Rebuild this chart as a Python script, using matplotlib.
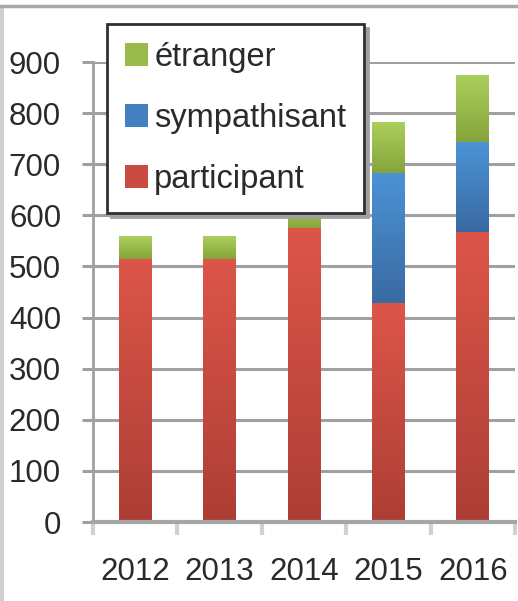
import matplotlib
matplotlib.use("Agg")
import matplotlib.pyplot as plt
import numpy as np
from matplotlib.colors import to_rgb
from matplotlib.lines import Line2D
from matplotlib.patches import Rectangle

years = ["2012", "2013", "2014", "2015", "2016"]
participant = [515, 515, 575, 428, 568]
sympathisant = [0, 0, 0, 255, 176]
etranger = [45, 45, 45, 98, 131]
yticks = [0, 100, 200, 300, 400, 500, 600, 700, 800, 900]

series = [
    ("participant", participant, "#dd5549", "#ad3e35", "#cc4b40"),
    ("sympathisant", sympathisant, "#4b93d6", "#3a6aa2", "#4280c0"),
    ("étranger", etranger, "#abcf5b", "#86a43c", "#9aba4c"),
]

plt.rcParams['font.family'] = ['Liberation Sans', 'DejaVu Sans']

fig = plt.figure(figsize=(5.18, 6.01), dpi=100)
fig.patch.set_facecolor("white")
ax = fig.add_axes([93/518, 1-522/601, (515-93)/518, (522-62)/601])

x = np.arange(len(years))
bottom = np.zeros(len(years))
width = 0.39
for name, vals, ctop, cbot, cmid in series:
    vals = np.array(vals, dtype=float)
    bars = ax.bar(x, vals, width, bottom=bottom, color=cmid, label=name, zorder=2)
    t = np.array(to_rgb(ctop)); b = np.array(to_rgb(cbot))
    grad = np.linspace(0, 1, 64)[:, None, None] * (b - t) + t
    for r in bars:
        h = r.get_height()
        if h <= 0:
            continue
        x0, y0, w = r.get_x(), r.get_y(), r.get_width()
        ax.imshow(grad, extent=[x0, x0 + w, y0, y0 + h], aspect='auto',
                  zorder=2.5, interpolation='bilinear', origin='upper')
    bottom += vals

ax.set_xlim(-0.5, len(years) - 0.5)
ax.set_ylim(0, 900)
ax.set_axisbelow(True)
ax.set_yticks(yticks)
ax.grid(axis='y', color='#a0a0a0', linewidth=2.2)
ax.set_xticks(x)
ax.set_xticklabels(years)
ax.set_xticks(np.arange(-0.5, len(years)), minor=True)

for s in ['top', 'right']:
    ax.spines[s].set_visible(False)
ax.spines['left'].set_color('#a0a0a0')
ax.spines['left'].set_linewidth(2)
ax.spines['bottom'].set_color('#a6a6a6')
ax.spines['bottom'].set_linewidth(3)

ax.tick_params(axis='y', length=8, width=2.2, color='#a0a0a0', pad=15,
               labelsize=22.5, labelcolor='#2a2a2a')
ax.tick_params(axis='x', which='major', length=0, pad=25, labelsize=22.5,
               labelcolor='#2a2a2a')
ax.tick_params(axis='x', which='minor', length=9, width=3, color='#d0d0d0')

h, l = ax.get_legend_handles_labels()
leg = ax.legend(h[::-1], l[::-1], loc='upper left',
                bbox_to_anchor=(107/518, 1-24/601), bbox_transform=fig.transFigure,
                borderaxespad=0, fontsize=23.5, handlelength=0.7, handleheight=0.7,
                handletextpad=0.2, labelspacing=0.92, fancybox=False, framealpha=1,
                edgecolor='#303030', borderpad=0.55,
                shadow={'color': '#a0a0a0', 'alpha': 1, 'ox': 3, 'oy': -3})
leg.get_frame().set_linewidth(2)
for t in leg.get_texts():
    t.set_color('#2a2a2a')

# chart outer border
fig.add_artist(Line2D([0, 1], [1-6/601, 1-6/601], transform=fig.transFigure,
                      color='#a8a8a8', linewidth=2.5))
fig.add_artist(Rectangle((0, 0), 4/518, 1-6/601, transform=fig.transFigure,
                         color='#d0d0d0', linewidth=0))

fig.savefig("out.png", dpi=100)
